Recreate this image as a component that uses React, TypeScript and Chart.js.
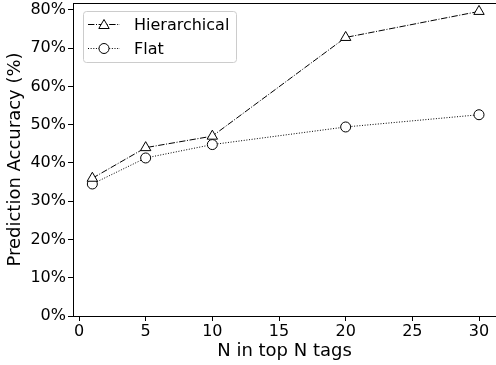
import React, { useEffect, useRef } from 'react';
import { Chart, registerables } from 'chart.js';

Chart.register(...registerables);

const nValues = [1, 5, 10, 20, 30];
const hierarchical = [36, 44, 47, 72.8, 79.6];
const flat = [34.5, 41.3, 44.8, 49.4, 52.6];
const xTicks = [0, 5, 10, 15, 20, 25, 30];
const yTicks = [0, 10, 20, 30, 40, 50, 60, 70, 80];
const seriesNames = ['Hierarchical', 'Flat'];
const xTitle = 'N in top N tags';
const yTitle = 'Prediction Accuracy (%)';

const FONT = 'DejaVu Sans';
const HIER_DASH = [6.4, 1.6, 1, 1.6];
const FLAT_DASH = [1, 1.65];

const AREA = { left: 73, right: 496, top: 3, bottom: 316 };

function drawTriangle(ctx: CanvasRenderingContext2D, x: number, y: number, r: number) {
  const t = (2 * Math.PI) / 3;
  let rad = 0;
  ctx.beginPath();
  ctx.moveTo(x + Math.sin(rad) * r, y - Math.cos(rad) * r);
  rad += t;
  ctx.lineTo(x + Math.sin(rad) * r, y - Math.cos(rad) * r);
  rad += t;
  ctx.lineTo(x + Math.sin(rad) * r, y - Math.cos(rad) * r);
  ctx.closePath();
  ctx.fill();
  ctx.stroke();
}

const framePlugin = {
  id: 'frameAndLegend',
  afterLayout(chart: any) {
    const x = chart.scales.x;
    const y = chart.scales.y;
    const ca = chart.chartArea;
    ca.left = AREA.left; ca.right = AREA.right; ca.top = AREA.top; ca.bottom = AREA.bottom;
    ca.width = AREA.right - AREA.left;
    ca.height = AREA.bottom - AREA.top;
    x.left = AREA.left; x.right = AREA.right; x.width = AREA.right - AREA.left;
    x.top = AREA.bottom; x.bottom = 365; x.height = 365 - AREA.bottom;
    y.left = 0; y.right = AREA.left; y.width = AREA.left;
    y.top = AREA.top; y.bottom = AREA.bottom; y.height = AREA.bottom - AREA.top;
    x.configure();
    y.configure();
  },
  afterDraw(chart: any) {
    const { ctx, chartArea } = chart;
    ctx.save();
    ctx.strokeStyle = '#000';
    ctx.lineWidth = 1;
    ctx.beginPath();
    ctx.moveTo(chartArea.left, chartArea.top + 0.5);
    ctx.lineTo(chartArea.right, chartArea.top + 0.5);
    ctx.stroke();

    // legend box
    const bx = 83.5, by = 11.5, bw = 153, bh = 51, br = 3;
    ctx.beginPath();
    ctx.moveTo(bx + br, by);
    ctx.lineTo(bx + bw - br, by);
    ctx.arcTo(bx + bw, by, bx + bw, by + br, br);
    ctx.lineTo(bx + bw, by + bh - br);
    ctx.arcTo(bx + bw, by + bh, bx + bw - br, by + bh, br);
    ctx.lineTo(bx + br, by + bh);
    ctx.arcTo(bx, by + bh, bx, by + bh - br, br);
    ctx.lineTo(bx, by + br);
    ctx.arcTo(bx, by, bx + br, by, br);
    ctx.closePath();
    ctx.fillStyle = 'rgba(255,255,255,0.8)';
    ctx.fill();
    ctx.strokeStyle = '#cccccc';
    ctx.stroke();

    const rows = [
      { name: seriesNames[0], y: 24.5, dash: HIER_DASH, style: 'triangle' },
      { name: seriesNames[1], y: 48.5, dash: FLAT_DASH, style: 'circle' },
    ];
    rows.forEach((row) => {
      ctx.strokeStyle = '#000';
      ctx.lineWidth = 1;
      ctx.setLineDash(row.dash);
      ctx.beginPath();
      ctx.moveTo(88, row.y);
      ctx.lineTo(120, row.y);
      ctx.stroke();
      ctx.setLineDash([]);
      ctx.fillStyle = '#fff';
      if (row.style === 'triangle') {
        drawTriangle(ctx, 104, row.y + 1, 6);
      } else {
        ctx.beginPath();
        ctx.arc(104, row.y, 5, 0, Math.PI * 2);
        ctx.fill();
        ctx.stroke();
      }
      ctx.fillStyle = '#000';
      ctx.font = `16px "${FONT}"`;
      ctx.textBaseline = 'middle';
      ctx.textAlign = 'left';
      ctx.fillText(row.name, 134, row.y + 1);
    });
    ctx.restore();
  },
};

export default function App() {
  const canvasRef = useRef<HTMLCanvasElement | null>(null);

  useEffect(() => {
    document.body.style.margin = '0';
    const canvas = canvasRef.current;
    if (!canvas) return;
    const chart = new Chart(canvas, {
      type: 'line',
      data: {
        datasets: [
          {
            label: seriesNames[0],
            data: nValues.map((x, i) => ({ x, y: hierarchical[i] })),
            borderColor: '#000',
            borderWidth: 1,
            borderDash: HIER_DASH,
            tension: 0,
            pointStyle: 'triangle',
            pointRadius: 6,
            pointBackgroundColor: '#fff',
            pointBorderColor: '#000',
            pointBorderWidth: 1,
            fill: false,
          },
          {
            label: seriesNames[1],
            data: nValues.map((x, i) => ({ x, y: flat[i] })),
            borderColor: '#000',
            borderWidth: 1,
            borderDash: FLAT_DASH,
            tension: 0,
            pointStyle: 'circle',
            pointRadius: 5,
            pointBackgroundColor: '#fff',
            pointBorderColor: '#000',
            pointBorderWidth: 1,
            fill: false,
          },
        ],
      },
      options: {
        responsive: false,
        animation: false,
        clip: false,
        layout: { padding: { left: 0, top: 3, right: 0, bottom: 0 } },
        plugins: { legend: { display: false }, tooltip: { enabled: false } },
        scales: {
          x: {
            type: 'linear',
            min: -0.45,
            max: 31.275,
            afterBuildTicks: (scale: any) => {
              scale.ticks = xTicks.map((v) => ({ value: v }));
            },
            grid: { drawOnChartArea: false, drawTicks: true, tickLength: 5, color: '#000' },
            border: { display: true, color: '#000', width: 1 },
            ticks: {
              color: '#000',
              font: { family: FONT, size: 16 },
              padding: 1,
              maxRotation: 0,
              autoSkip: false,
              callback: (v: any) => String(v),
            },
            title: {
              display: true,
              text: xTitle,
              color: '#000',
              font: { family: FONT, size: 18 },
              padding: { top: 0, bottom: 3 },
            },
          },
          y: {
            type: 'linear',
            min: 0,
            max: 81.8,
            afterBuildTicks: (scale: any) => {
              scale.ticks = yTicks.map((v) => ({ value: v }));
            },
            grid: { drawOnChartArea: false, drawTicks: true, tickLength: 5, color: '#000' },
            border: { display: true, color: '#000', width: 1 },
            ticks: {
              color: '#000',
              font: { family: FONT, size: 16 },
              padding: 2,
              autoSkip: false,
              callback: (v: any) => `${v}%`,
            },
            title: {
              display: true,
              text: yTitle,
              color: '#000',
              font: { family: FONT, size: 18 },
              padding: { top: 5, bottom: 0 },
            },
          },
        },
      },
      plugins: [framePlugin],
    } as any);
    return () => chart.destroy();
  }, []);

  return (
    <div style={{ position: 'absolute', left: 0, top: 0, width: 496, height: 365 }}>
      <canvas ref={canvasRef} width={496} height={365} />
    </div>
  );
}
